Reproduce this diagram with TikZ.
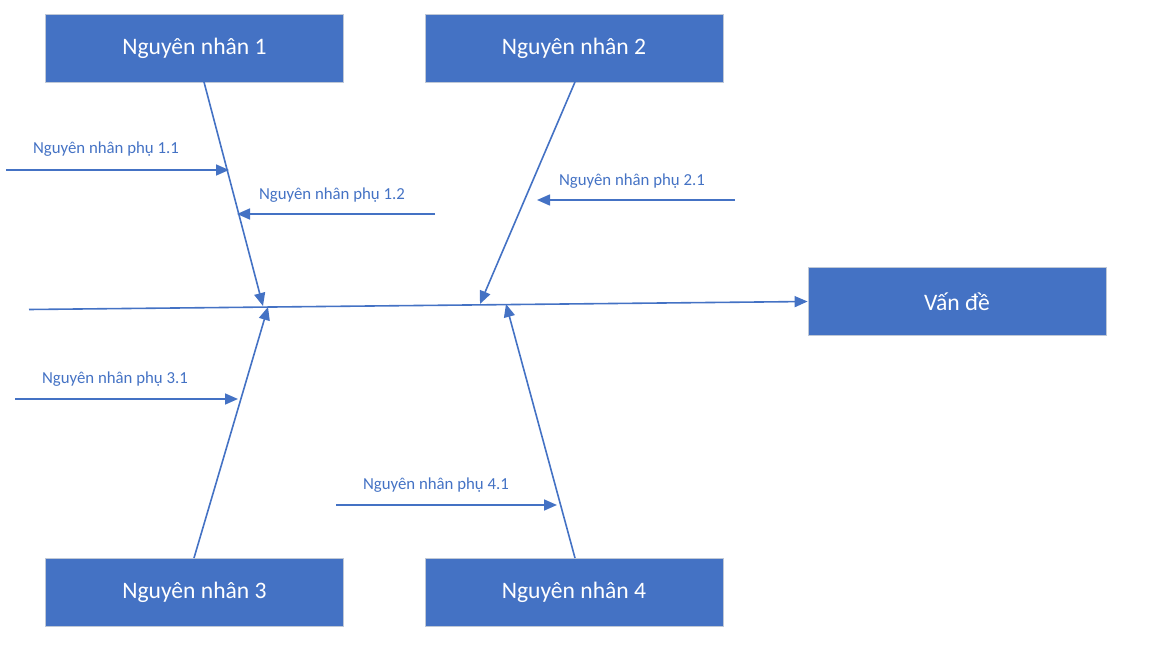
\documentclass[tikz,border=0pt]{standalone}
\usepackage{fontspec}
\setmainfont{Carlito}
\usetikzlibrary{arrows.meta}
\definecolor{blu}{HTML}{4472C4}
\definecolor{bord}{HTML}{BFC8D6}
\begin{document}
\begin{tikzpicture}[x=1pt,y=-1pt,
  box/.style={draw=bord,line width=0.8pt,fill=blu,text=white,minimum width=298pt,minimum height=68pt,inner sep=0pt,font=\fontsize{23.6}{28}\selectfont},
  lbl/.style={text=blu,font=\fontsize{16.8}{20}\selectfont,inner sep=0pt},
  arr/.style={draw=blu,line width=1.6pt,-{Triangle[length=13pt,width=11pt]}}]
\useasboundingbox (0,0) rectangle (1152,650);
\node[box] (c1) at (194.5,48) {\raisebox{-1pt}{Nguyên nhân 1}};
\node[box] (c2) at (574,48) {\raisebox{-1pt}{Nguyên nhân 2}};
\node[box] (c3) at (194.5,592.5) {\raisebox{-1pt}{Nguyên nhân 3}};
\node[box] (c4) at (574,592.5) {\raisebox{-1pt}{Nguyên nhân 4}};
\node[box] (vd) at (957,301.5) {\raisebox{-1pt}{Vấn đề}};
% spine
\coordinate (s0) at (29,309.5);
\draw[arr] (s0) -- (vd.west);
% bones
\coordinate (b1s) at (204,82);
\coordinate (b1e) at (263,306);
\coordinate (b2s) at (575,82);
\coordinate (b2e) at (480,304);
\coordinate (b3s) at (194,558);
\coordinate (b3e) at (268,307);
\coordinate (b4s) at (575,558);
\coordinate (b4e) at (506,304);
\draw[arr] (b1s) -- (b1e);
\draw[arr] (b2s) -- (b2e);
\draw[arr] (b3s) -- (b3e);
\draw[arr] (b4s) -- (b4e);
% sub causes
\coordinate (p11s) at (6,170);  \coordinate (p11e) at (229,170);
\coordinate (p12s) at (435,214); \coordinate (p12e) at (237,214);
\coordinate (p21s) at (735,200); \coordinate (p21e) at (537,200);
\coordinate (p31s) at (15,399);  \coordinate (p31e) at (238,399);
\coordinate (p41s) at (336,505); \coordinate (p41e) at (557,505);
\draw[arr] (p11s) -- (p11e);
\draw[arr] (p12s) -- (p12e);
\draw[arr] (p21s) -- (p21e);
\draw[arr] (p31s) -- (p31e);
\draw[arr] (p41s) -- (p41e);
\node[lbl] (l11) at (106,149) {Nguyên nhân phụ 1.1};
\node[lbl] (l12) at (332,195) {Nguyên nhân phụ 1.2};
\node[lbl] (l21) at (632,181) {Nguyên nhân phụ 2.1};
\node[lbl] (l31) at (115,379) {Nguyên nhân phụ 3.1};
\node[lbl] (l41) at (436,485) {Nguyên nhân phụ 4.1};
\end{tikzpicture}
\end{document}
